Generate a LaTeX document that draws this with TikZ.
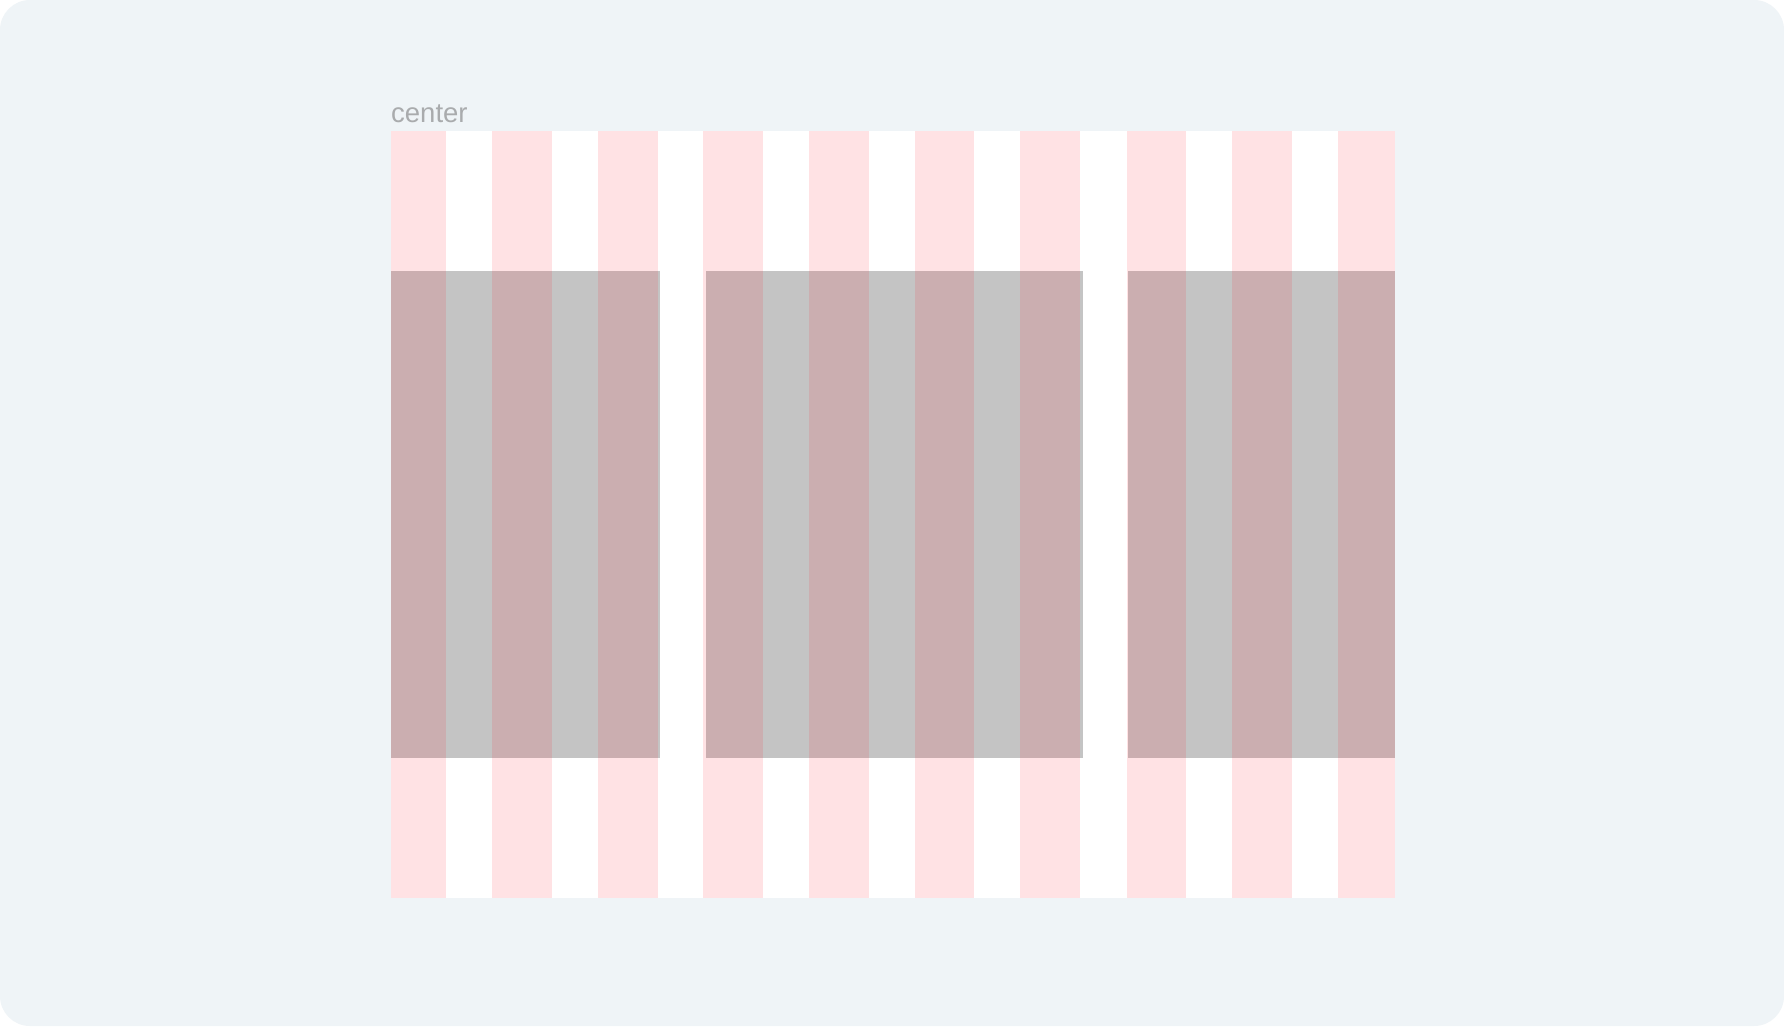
\documentclass[tikz,border=0pt]{standalone}
\usepackage{fontspec}
\setsansfont{Liberation Sans}
\usetikzlibrary{positioning}

\definecolor{pagebg}{HTML}{EFF4F7}
\definecolor{trackred}{HTML}{FF1626}
\definecolor{itemgray}{HTML}{C4C4C4}
\definecolor{labelgray}{HTML}{A9ABAD}

\begin{document}
\begin{tikzpicture}[
  x=1pt, y=-1pt,
  font=\sffamily,
  box/.style  ={rectangle, inner sep=0pt, outer sep=0pt, anchor=north west},
  cont/.style ={box, fill=white, minimum width=1004, minimum height=766.7},
  track/.style={fill=trackred, fill opacity=0.12, draw=none},
  item/.style ={box, fill=itemgray, minimum height=486.7},
  lbl/.style  ={anchor=base west, inner sep=0pt, text=labelgray,
                font=\sffamily\fontsize{27.5}{33}\selectfont},
]
\useasboundingbox (0,0) rectangle (1784,1026);
\fill[white] (0,0) rectangle (1784,1026);
\fill[pagebg, rounded corners=30pt] (0,0) rectangle (1784,1026);

% Grid container
\node[cont] (grid) at (391,131) {};
\node[lbl]  (title) at (391,122.3) {center};

% Grid items
\node[item, minimum width=269]   (itemA) at (391,271)    {};
\node[item, minimum width=376.7] (itemB) at (706,271)    {};
\node[item, minimum width=266.7] (itemC) at (1128.3,271) {};

% Column tracks (overlay)
\foreach \xa/\xb in {391/446, 492/552, 598/657.7, 703.3/763.3, 809/868.7,
                     915/974.3, 1020.3/1080, 1126.7/1186, 1232/1292, 1337.7/1395}
  \fill[track] (\xa,131) rectangle (\xb,897.7);

\end{tikzpicture}
\end{document}
